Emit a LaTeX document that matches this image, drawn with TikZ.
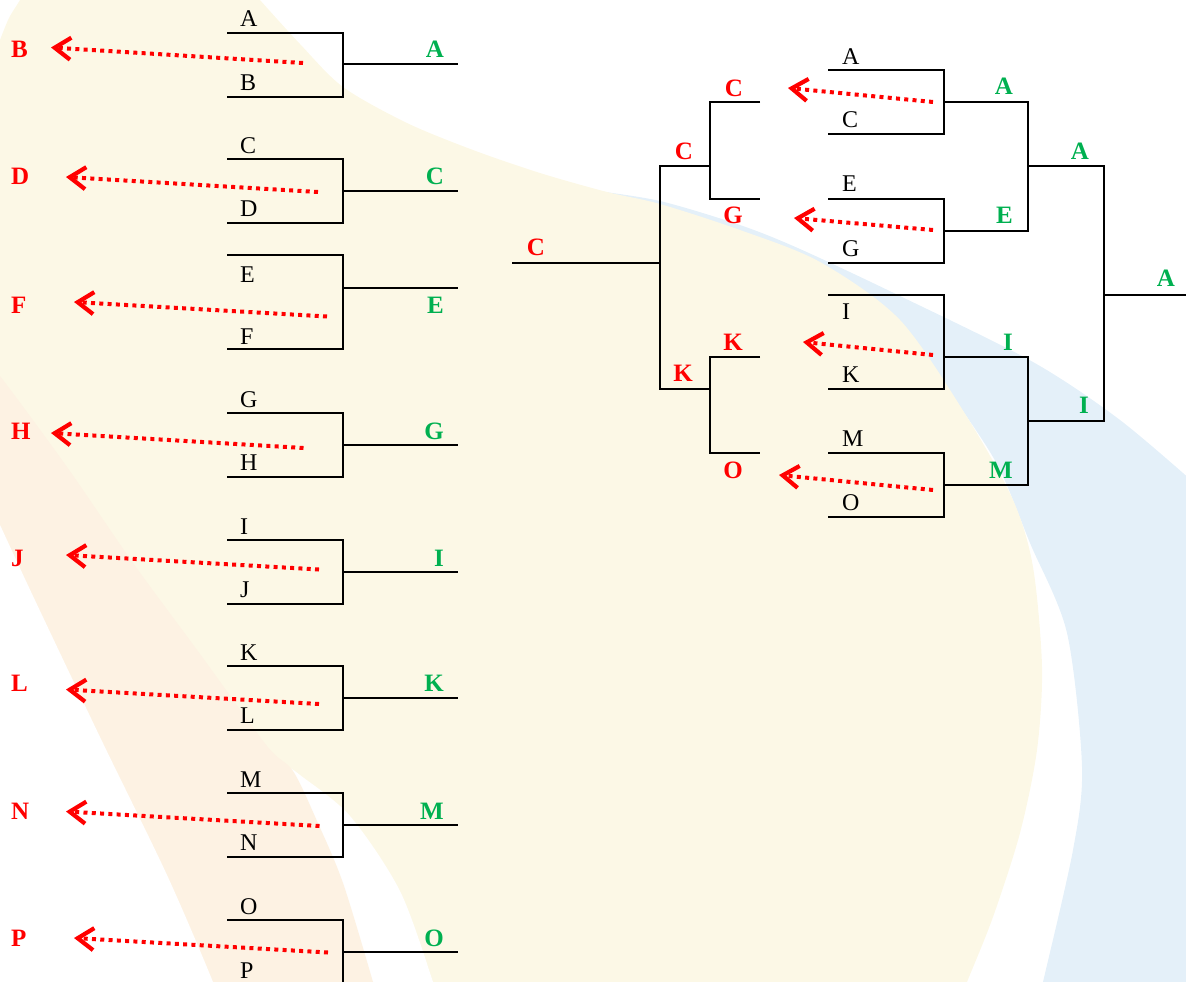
\documentclass[tikz,border=0pt]{standalone}
\usepackage{fontspec}
\setmainfont{Liberation Serif}
\usetikzlibrary{arrows.meta}
\definecolor{bgcream}{RGB}{252,248,230}
\definecolor{bgpeach}{RGB}{253,242,227}
\definecolor{bgblue}{RGB}{228,240,249}
\definecolor{winred}{RGB}{255,0,0}
\definecolor{wingreen}{RGB}{0,176,80}
\tikzset{
  brk/.style={line width=2pt, line join=miter},
  plain/.style={font=\fontsize{24}{28}\selectfont, inner sep=0pt, anchor=base west, text=black},
  loser/.style={font=\fontsize{25}{29}\selectfont\bfseries, text=winred, inner sep=0pt},
  winner/.style={font=\fontsize{25}{29}\selectfont\bfseries, text=wingreen, inner sep=0pt, anchor=base east},
  elim/.style={draw=winred, line width=4pt, dash pattern=on 4pt off 4.3pt,
    -{Straight Barb[length=16pt,width=22pt,line width=4.2pt]}}
}
\begin{document}
\begin{tikzpicture}[x=1pt,y=-1pt]
\useasboundingbox (0,0) rectangle (1186,982);
\clip (0,0) rectangle (1186,982);
% ---------- background ----------
\fill[bgblue] plot[smooth] coordinates {(590,190) (660,201) (740,225) (800,249) (900,296) (1033,362) (1120,420) (1200,488)}
  -- (1200,1000) -- (1040,1000)
  -- plot[smooth] coordinates {(1040,995) (1043,982) (1073,850) (1082,767) (1067,633) (1030,543) (1000,470) (967,417) (900,322) (820,264) (740,232) (660,207) (590,193)} -- cycle;
\fill[bgcream] plot[smooth] coordinates {(250,-12) (260,0) (300,44) (343,87) (407,123) (473,150) (540,173) (607,192) (660,204) (740,230) (820,262) (900,320) (967,417) (1013,500) (1033,567) (1042,667) (1037,750) (1020,833) (993,917) (967,982) (960,1000)}
  -- (-10,1000) -- (-10,60)
  -- plot[smooth] coordinates {(-4,52) (0,40) (9,18) (20,0) (26,-12)} -- cycle;
\fill[white] (280,762) -- plot[smooth] coordinates {(290,768) (300,775) (350,816) (400,891) (433,982) (437,1000)} -- (330,1000) -- cycle;
\fill[bgpeach] plot[smooth] coordinates {(-10,368) (0,376) (67,467) (133,563) (200,654) (267,746) (293,771) (317,821) (343,883) (373,982) (377,1000)}
  -- (-10,1000) -- cycle;
\fill[white] plot[smooth] coordinates {(-10,505) (0,525) (33,596) (100,737) (167,875) (213,982) (217,1000)}
  -- (-10,1000) -- cycle;
% ---------- left column of first-round brackets ----------
\foreach \n/\t/\b/\o/\wt/\wb/\ya/\yb/\yw/\sx/\sy/\tx/\ty in {
  1/33/97/64/A/B/27/91/58/303/63/51/47.5,
  2/159/222.7/190.7/C/D/153/216.7/184.7/318/192/66/177,
  3/255/349/288/E/F/282/344/313/327/316.5/74/302,
  4/413/476.5/445/G/H/407/470.5/439/303.5/448/51/433,
  5/540/603.6/572/I/J/534/597.6/566/319/569.5/66/555,
  6/666/729.7/697.5/K/L/660/723.7/691.5/319/704/66/689.5,
  7/793/856.7/825/M/N/787/850.7/819/319.5/826/66/811.5,
  8/920/984/952/O/P/914/978/946/328/952.5/74/938}{
  \coordinate (L\n tl) at (227,\t);
  \coordinate (L\n tr) at (343,\t);
  \coordinate (L\n br) at (343,\b);
  \coordinate (L\n bl) at (227,\b);
  \coordinate (L\n m) at (343,\o);
  \coordinate (L\n o) at (458,\o);
  \draw[brk] (L\n tl) -- (L\n tr) -- (L\n br) -- (L\n bl);
  \draw[brk] (L\n m) -- (L\n o);
  \node[plain] (L\n a) at (240,\ya) {\wt};
  \node[plain] (L\n b) at (240,\yb) {\wb};
  \node[winner] (L\n w) at (444,\yw) {\wt};
  \node[loser, anchor=base west] (L\n x) at (11,\yw) {\wb};
  \coordinate (L\n s) at (\sx,\sy);
  \coordinate (L\n t) at (\tx,\ty);
  \draw[elim] (L\n s) -- (L\n t);
}
% ---------- right bracket (winners) ----------
\coordinate (R1tl) at (828,70);  \coordinate (R1tr) at (944,70);
\coordinate (R1br) at (944,134); \coordinate (R1bl) at (828,134);
\coordinate (R2tl) at (828,199); \coordinate (R2tr) at (944,199);
\coordinate (R2br) at (944,263); \coordinate (R2bl) at (828,263);
\coordinate (R3tl) at (828,295); \coordinate (R3tr) at (944,295);
\coordinate (R3br) at (944,389); \coordinate (R3bl) at (828,389);
\coordinate (R4tl) at (828,453); \coordinate (R4tr) at (944,453);
\coordinate (R4br) at (944,517); \coordinate (R4bl) at (828,517);
\draw[brk] (R1tl) -- (R1tr) -- (R1br) -- (R1bl);
\draw[brk] (R2tl) -- (R2tr) -- (R2br) -- (R2bl);
\draw[brk] (R3tl) -- (R3tr) -- (R3br) -- (R3bl);
\draw[brk] (R4tl) -- (R4tr) -- (R4br) -- (R4bl);
\coordinate (R1m) at (944,102);   \coordinate (Q1t) at (1028,102);
\coordinate (R2m) at (944,231);   \coordinate (Q1b) at (1028,231);
\coordinate (R3m) at (944,357);   \coordinate (Q2t) at (1028,357);
\coordinate (R4m) at (944,485);   \coordinate (Q2b) at (1028,485);
\draw[brk] (R1m) -- (Q1t) -- (Q1b) -- (R2m);
\draw[brk] (R3m) -- (Q2t) -- (Q2b) -- (R4m);
\coordinate (Q1m) at (1028,166);  \coordinate (F1t) at (1104,166);
\coordinate (Q2m) at (1028,421);  \coordinate (F1b) at (1104,421);
\draw[brk] (Q1m) -- (F1t) -- (F1b) -- (Q2m);
\coordinate (F1m) at (1104,295);  \coordinate (F1o) at (1190,295);
\draw[brk] (F1m) -- (F1o);
% ---------- right bracket (eliminated side) ----------
\coordinate (S1t) at (760,102); \coordinate (S1tc) at (710,102);
\coordinate (S1b) at (760,199); \coordinate (S1bc) at (710,199);
\coordinate (S2t) at (760,357); \coordinate (S2tc) at (710,357);
\coordinate (S2b) at (760,453); \coordinate (S2bc) at (710,453);
\draw[brk] (S1t) -- (S1tc) -- (S1bc) -- (S1b);
\draw[brk] (S2t) -- (S2tc) -- (S2bc) -- (S2b);
\coordinate (S1m) at (710,166); \coordinate (T1t) at (660,166);
\coordinate (S2m) at (710,389); \coordinate (T1b) at (660,389);
\draw[brk] (S1m) -- (T1t) -- (T1b) -- (S2m);
\coordinate (T1m) at (660,263); \coordinate (T1o) at (512,263);
\draw[brk] (T1m) -- (T1o);
% black labels
\node[plain] (ra1) at (842,64) {A};
\node[plain] (rc1) at (842,127.3) {C};
\node[plain] (re1) at (842,191.7) {E};
\node[plain] (rg1) at (842,256) {G};
\node[plain] (ri1) at (842,319.3) {I};
\node[plain] (rk1) at (842,382.3) {K};
\node[plain] (rm1) at (842,446.7) {M};
\node[plain] (ro1) at (842,510.7) {O};
% green winners
\node[winner] (wa1) at (1013,95) {A};
\node[winner] (we1) at (1013,223.3) {E};
\node[winner] (wi1) at (1013,350) {I};
\node[winner] (wm1) at (1013,478.3) {M};
\node[winner] (wa2) at (1089,159) {A};
\node[winner] (wi2) at (1089,413.3) {I};
\node[winner] (wa3) at (1175,286.7) {A};
% red losers
\node[loser, anchor=base east] (xc1) at (743,96) {C};
\node[loser, anchor=base east] (xg1) at (743,223.3) {G};
\node[loser, anchor=base east] (xk1) at (743,350) {K};
\node[loser, anchor=base east] (xo1) at (743,478.3) {O};
\node[loser, anchor=base east] (xc2) at (693,159.3) {C};
\node[loser, anchor=base east] (xk2) at (693,381.7) {K};
\node[loser, anchor=base east] (xc3) at (545,255) {C};
% red arrows
\coordinate (Rs1) at (933,102); \coordinate (Rt1) at (788,88);
\coordinate (Rs2) at (933,230); \coordinate (Rt2) at (794,218);
\coordinate (Rs3) at (933,355); \coordinate (Rt3) at (803,342);
\coordinate (Rs4) at (933,490); \coordinate (Rt4) at (779,475);
\draw[elim] (Rs1) -- (Rt1);
\draw[elim] (Rs2) -- (Rt2);
\draw[elim] (Rs3) -- (Rt3);
\draw[elim] (Rs4) -- (Rt4);
\end{tikzpicture}
\end{document}
